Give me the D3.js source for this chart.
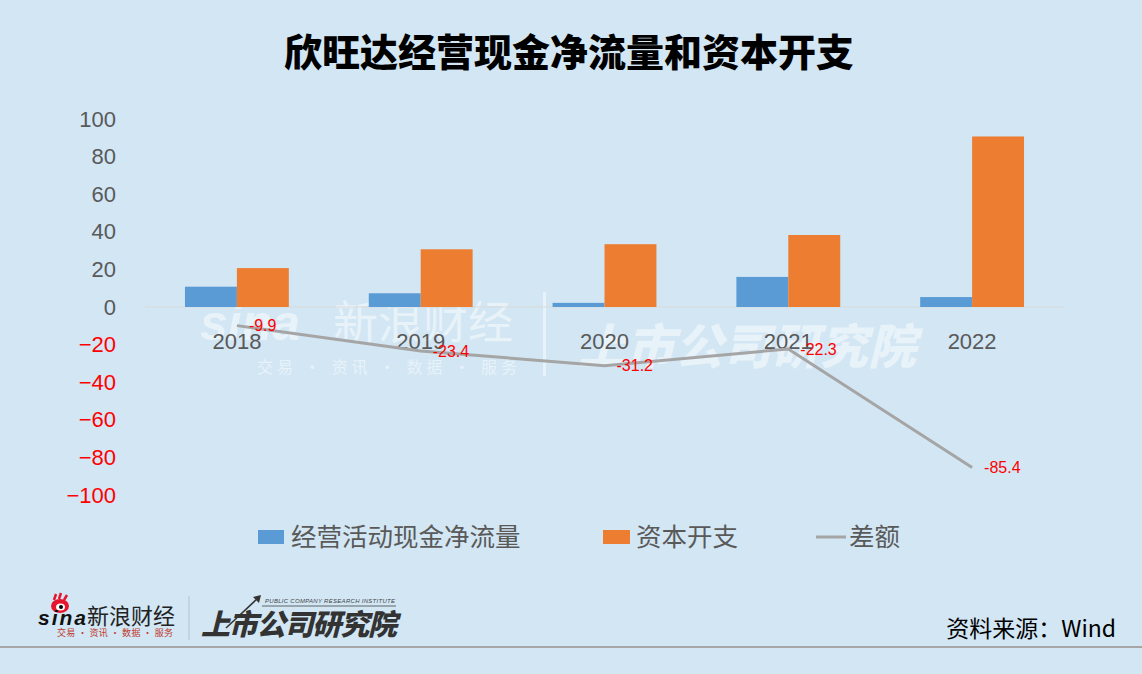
<!DOCTYPE html>
<html><head><meta charset="utf-8">
<script src="https://cdn.jsdelivr.net/npm/d3@7"></script>
<style>
html,body{margin:0;padding:0;background:#d2e6f4;}
svg{display:block;}
</style></head>
<body>
<svg id="chart" width="1142" height="674"></svg>
<script>
const title = "欣旺达经营现金净流量和资本开支";
const years = ["2018","2019","2020","2021","2022"];
const seriesNames = ["经营活动现金净流量","资本开支","差额"];
const operatingCashFlow = [10.8, 7.3, 2.2, 16.0, 5.3];
const capex = [20.7, 30.7, 33.4, 38.3, 90.7];
const difference = [-9.9, -23.4, -31.2, -22.3, -85.4];
const yTicks = [-100,-80,-60,-40,-20,0,20,40,60,80,100];
const source = "资料来源：Wind";

const cjk = "'Noto Sans CJK SC','Noto Sans',sans-serif";
const latin = "'Liberation Sans','Noto Sans',sans-serif";
const svg = d3.select("#chart");
svg.append("rect").attr("width",1142).attr("height",674).attr("fill","#d2e6f4");

// title
svg.append("text").attr("x",569).attr("y",66).attr("text-anchor","middle")
  .attr("font-family",cjk).attr("font-weight",900).attr("font-size",38)
  .attr("fill","#000").text(title);

const x = d3.scaleBand().domain(years).range([145,1064]).paddingInner(0.435).paddingOuter(0.2175);
const x1 = d3.scaleBand().domain(["ocf","capex"]).range([0,x.bandwidth()]);
const y = d3.scaleLinear().domain([-100,100]).range([495,119]);

// watermark (behind)
const wm = svg.append("g").attr("fill","#ffffff").attr("opacity",0.5);
wm.append("text").attr("x",200).attr("y",340).attr("font-family",latin).attr("font-weight",700)
  .attr("font-style","italic").attr("font-size",50).text("sina");
wm.append("text").attr("x",333).attr("y",339).attr("font-family",cjk).attr("font-size",45).text("新浪财经");
wm.append("text").attr("x",257).attr("y",373).attr("font-family",cjk).attr("font-size",16)
  .attr("textLength",260).text("交易 · 资讯 · 数据 · 服务");
wm.append("rect").attr("x",543).attr("y",292).attr("width",3).attr("height",84);
wm.append("text").attr("x",578).attr("y",364).attr("font-family",cjk).attr("font-weight",900)
  .attr("font-style","italic").attr("font-size",48).attr("textLength",338).text("上市公司研究院");

// zero line
svg.append("line").attr("x1",145).attr("x2",1064).attr("y1",y(0)).attr("y2",y(0))
  .attr("stroke","#d9d9d9").attr("stroke-width",1);

// y axis
const yAxis = svg.append("g").attr("transform","translate(116,0)")
  .call(d3.axisLeft(y).tickValues(yTicks).tickSize(0).tickPadding(0));
yAxis.select(".domain").remove();
yAxis.selectAll("text").attr("font-family",latin).attr("font-size",22)
  .attr("fill",d=>d<0?"#ff0000":"#595959");

// bars
const groups = svg.append("g").selectAll("g").data(years).join("g")
  .attr("transform",d=>`translate(${x(d)},0)`);
groups.append("rect").attr("x",x1("ocf")).attr("width",x1.bandwidth())
  .attr("y",(d,i)=>y(Math.max(0,operatingCashFlow[i])))
  .attr("height",(d,i)=>Math.abs(y(operatingCashFlow[i])-y(0)))
  .attr("fill","#5b9bd5");
groups.append("rect").attr("x",x1("capex")).attr("width",x1.bandwidth())
  .attr("y",(d,i)=>y(Math.max(0,capex[i])))
  .attr("height",(d,i)=>Math.abs(y(capex[i])-y(0)))
  .attr("fill","#ed7d31");

// x axis labels
const xAxis = svg.append("g").attr("transform",`translate(0,${y(0)})`)
  .call(d3.axisBottom(x).tickSize(0).tickPadding(26));
xAxis.select(".domain").remove();
xAxis.selectAll("text").attr("font-family",latin).attr("font-size",22).attr("fill","#595959");

// line
const cx = d=>x(d)+x.bandwidth()/2;
svg.append("path").datum(years)
  .attr("d",d3.line().x(d=>cx(d)).y((d,i)=>y(difference[i])))
  .attr("fill","none").attr("stroke","#a5a5a5").attr("stroke-width",3);

svg.append("g").selectAll("text").data(years).join("text")
  .attr("x",d=>cx(d)+12).attr("y",(d,i)=>y(difference[i])).attr("dy","0.35em")
  .attr("font-family",latin).attr("font-size",16).attr("fill","#ff0000")
  .text((d,i)=>difference[i].toFixed(1));

// legend
const lg = svg.append("g").attr("font-family",cjk).attr("font-size",25.5).attr("fill","#595959");
lg.append("rect").attr("x",258).attr("y",530).attr("width",26).attr("height",14).attr("fill","#5b9bd5");
lg.append("text").attr("x",291).attr("y",546).text(seriesNames[0]);
lg.append("rect").attr("x",603).attr("y",530).attr("width",27).attr("height",14).attr("fill","#ed7d31");
lg.append("text").attr("x",636).attr("y",546).text(seriesNames[1]);
lg.append("line").attr("x1",816).attr("x2",846).attr("y1",537).attr("y2",537).attr("stroke","#a5a5a5").attr("stroke-width",3);
lg.append("text").attr("x",849).attr("y",546).text(seriesNames[2]);

// footer logos
const ft = svg.append("g");
const eye = ft.append("g").attr("transform","translate(60,606)");
eye.append("ellipse").attr("rx",9).attr("ry",7).attr("fill","#e6162d");
eye.append("ellipse").attr("rx",4.5).attr("ry",3.5).attr("cx",0.5).attr("cy",1).attr("fill","#ffffff");
eye.append("circle").attr("r",2).attr("cx",1).attr("cy",1).attr("fill","#000");
eye.append("path").attr("d","M-6,-6 L-4,-12 M-1,-7 L1,-13 M4,-6 L7,-11").attr("stroke","#e6162d").attr("stroke-width",2.5);
ft.append("text").attr("x",38).attr("y",625).attr("font-family",latin).attr("font-weight",700)
  .attr("font-style","italic").attr("font-size",21).attr("fill","#111").attr("textLength",48).text("sina");
ft.append("text").attr("x",87).attr("y",624).attr("font-family",cjk).attr("font-size",22).attr("fill","#222").text("新浪财经");
ft.append("text").attr("x",57).attr("y",636).attr("font-family",cjk).attr("font-size",9).attr("fill","#c0392b")
  .attr("textLength",116).text("交易 · 资讯 · 数据 · 服务");
ft.append("line").attr("x1",189).attr("x2",189).attr("y1",596).attr("y2",640).attr("stroke","#b5c4cf").attr("stroke-width",1);
ft.append("text").attr("x",265).attr("y",603).attr("font-family",latin).attr("font-style","italic").attr("font-size",6)
  .attr("fill","#444").attr("textLength",130).text("PUBLIC COMPANY RESEARCH INSTITUTE");
ft.append("line").attr("x1",262).attr("x2",396).attr("y1",606).attr("y2",606).attr("stroke","#444").attr("stroke-width",0.8);
ft.append("path").attr("d","M226,628 L258,598").attr("stroke","#333").attr("stroke-width",1.5);
ft.append("path").attr("d","M253,597 L261,595 L259,603 Z").attr("fill","#333");
ft.append("text").attr("x",201).attr("y",635).attr("font-family",cjk).attr("font-weight",900)
  .attr("font-style","italic").attr("font-size",29).attr("fill","#333").attr("textLength",196).text("上市公司研究院");

// source
svg.append("text").attr("x",1116).attr("y",637).attr("text-anchor","end")
  .attr("font-family",cjk).attr("font-size",23).attr("fill","#000").text(source);
svg.append("line").attr("x1",0).attr("x2",1142).attr("y1",647).attr("y2",647)
  .attr("stroke","#a6a6a6").attr("stroke-width",2);
</script>
</body></html>
